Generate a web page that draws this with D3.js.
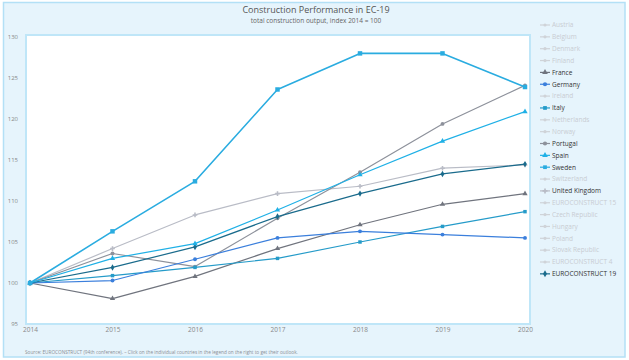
<!DOCTYPE html>
<html><head><meta charset="utf-8">
<script src="https://cdn.jsdelivr.net/npm/d3@7"></script>
<style>body{margin:0;background:#fff;}svg{display:block;font-family:"Open Sans",sans-serif;}</style>
</head><body><svg id="c" width="629" height="360"></svg>
<script>
const years = [2014, 2015, 2016, 2017, 2018, 2019, 2020];
const yTicks = [95, 100, 105, 110, 115, 120, 125, 130];
const legendNames = ["Austria","Belgium","Denmark","Finland","France","Germany","Ireland","Italy","Netherlands","Norway","Portugal","Spain","Sweden","Switzerland","United Kingdom","EUROCONSTRUCT 15","Czech Republic","Hungary","Poland","Slovak Republic","EUROCONSTRUCT 4","EUROCONSTRUCT 19"];
const activeNames = ["France","Germany","Italy","Portugal","Spain","Sweden","United Kingdom","EUROCONSTRUCT 19"];
const france   = [100, 98.1, 100.8, 104.2, 107.1, 109.6, 110.9];
const germany  = [100, 100.3, 102.9, 105.5, 106.3, 105.9, 105.5];
const italy    = [100, 100.9, 101.9, 103.0, 105.0, 106.9, 108.7];
const portugal = [100, 103.6, 102.0, 107.9, 113.5, 119.4, 124.1];
const spain    = [100, 103.0, 104.8, 108.9, 113.2, 117.3, 120.9];
const sweden   = [100, 106.3, 112.4, 123.6, 128.0, 128.0, 123.9];
const uk       = [100, 104.2, 108.3, 110.9, 111.8, 114.0, 114.4];
const ec19     = [100, 101.9, 104.4, 108.1, 110.9, 113.3, 114.5];
const seriesColors = {"France":"#70747e","Germany":"#3b7fdc","Italy":"#259bc9","Portugal":"#8d919b","Spain":"#1fb0e6","Sweden":"#2aace0","United Kingdom":"#b9bcc6","EUROCONSTRUCT 19":"#1a6b8c"};
const seriesData = {"France":france,"Germany":germany,"Italy":italy,"Portugal":portugal,"Spain":spain,"Sweden":sweden,"United Kingdom":uk,"EUROCONSTRUCT 19":ec19};
const markers = {"France":"triangle","Germany":"circle","Italy":"square","Portugal":"circle","Spain":"triangle","Sweden":"square","United Kingdom":"cross","EUROCONSTRUCT 19":"diamond"};
const drawOrder = ["United Kingdom","France","Portugal","Italy","Germany","EUROCONSTRUCT 19","Spain","Sweden"];

const svg = d3.select("#c");
// outer frame
svg.append("rect").attr("x",3.5).attr("y",2.5).attr("width",621.5).attr("height",354.5)
  .attr("fill","#e6f4fc").attr("stroke","#b3e0f6").attr("stroke-width",1.5);
// plot area
const L=26, R=530, T=35, B=324;
svg.append("rect").attr("x",L).attr("y",T).attr("width",R-L).attr("height",B-T)
  .attr("fill","#fff").attr("stroke","#bfe6f8").attr("stroke-width",2);

const x = d3.scalePoint().domain(years).range([30, 525]);
const y = d3.scaleLinear().domain([95,130]).range([B, 37]);

// title
svg.append("text").attr("x",316).attr("y",13).attr("text-anchor","middle")
  .attr("font-size",9).attr("fill","#555").text("Construction Performance in EC-19");
svg.append("text").attr("x",316).attr("y",23).attr("text-anchor","middle")
  .attr("font-size",6.5).attr("fill","#666").text("total construction output, index 2014 = 100");

// axes
const yAxis = svg.append("g").attr("transform","translate(21,0)")
  .call(d3.axisLeft(y).tickValues(yTicks).tickSize(0).tickFormat(d3.format("d")));
yAxis.select(".domain").remove();
yAxis.selectAll("text").attr("font-size",6).attr("fill","#888").attr("font-family","Open Sans, sans-serif").attr("dx",0);

const xAxis = svg.append("g").attr("transform",`translate(0,${B})`)
  .call(d3.axisBottom(x).tickSize(0).tickFormat(d3.format("d")));
xAxis.select(".domain").remove();
xAxis.selectAll("text").attr("font-size",6.5).attr("fill","#888").attr("font-family","Open Sans, sans-serif");

// lines
const line = d3.line().x((d,i)=>x(years[i])).y(d=>y(d));
function sym(t){return {square:d3.symbolSquare,circle:d3.symbolCircle,triangle:d3.symbolTriangle,diamond:d3.symbolDiamond,cross:d3.symbolCross}[t];}
drawOrder.forEach(name=>{
  const vals = seriesData[name];
  const col = seriesColors[name];
  const sw = name==="Sweden"?1.6:1.2;
  svg.append("path").datum(vals).attr("d",line).attr("fill","none")
    .attr("stroke",col).attr("stroke-width",sw).attr("stroke-linejoin","round");
  const size = name==="Sweden"?20:12;
  svg.append("g").selectAll("path").data(vals).join("path")
    .attr("transform",(d,i)=>`translate(${x(years[i])},${y(d)})`)
    .attr("d",d3.symbol().type(sym(markers[name])).size(size))
    .attr("fill",col);
});

// legend
const lg = svg.append("g");
legendNames.forEach((name,i)=>{
  const yy = 25 + i*11.85;
  const active = activeNames.includes(name);
  const col = active ? seriesColors[name] : "#cfd3d8";
  lg.append("line").attr("x1",540).attr("x2",550).attr("y1",yy).attr("y2",yy)
    .attr("stroke",col).attr("stroke-width",1.2);
  lg.append("path").attr("transform",`translate(545,${yy})`)
    .attr("d",d3.symbol().type(sym(active?markers[name]:"circle")).size(active?14:8)).attr("fill",col);
  lg.append("text").attr("x",552).attr("y",yy+2.3).attr("font-size",6.5)
    .attr("fill",active?"#333":"#c8ccd2").text(name);
});

// source
svg.append("text").attr("x",25).attr("y",353.5).attr("font-size",4.7).attr("fill","#8a8f96")
  .text("Source: EUROCONSTRUCT (94th conference). – Click on the individual countries in the legend on the right to get their outlook.");
</script></body></html>
